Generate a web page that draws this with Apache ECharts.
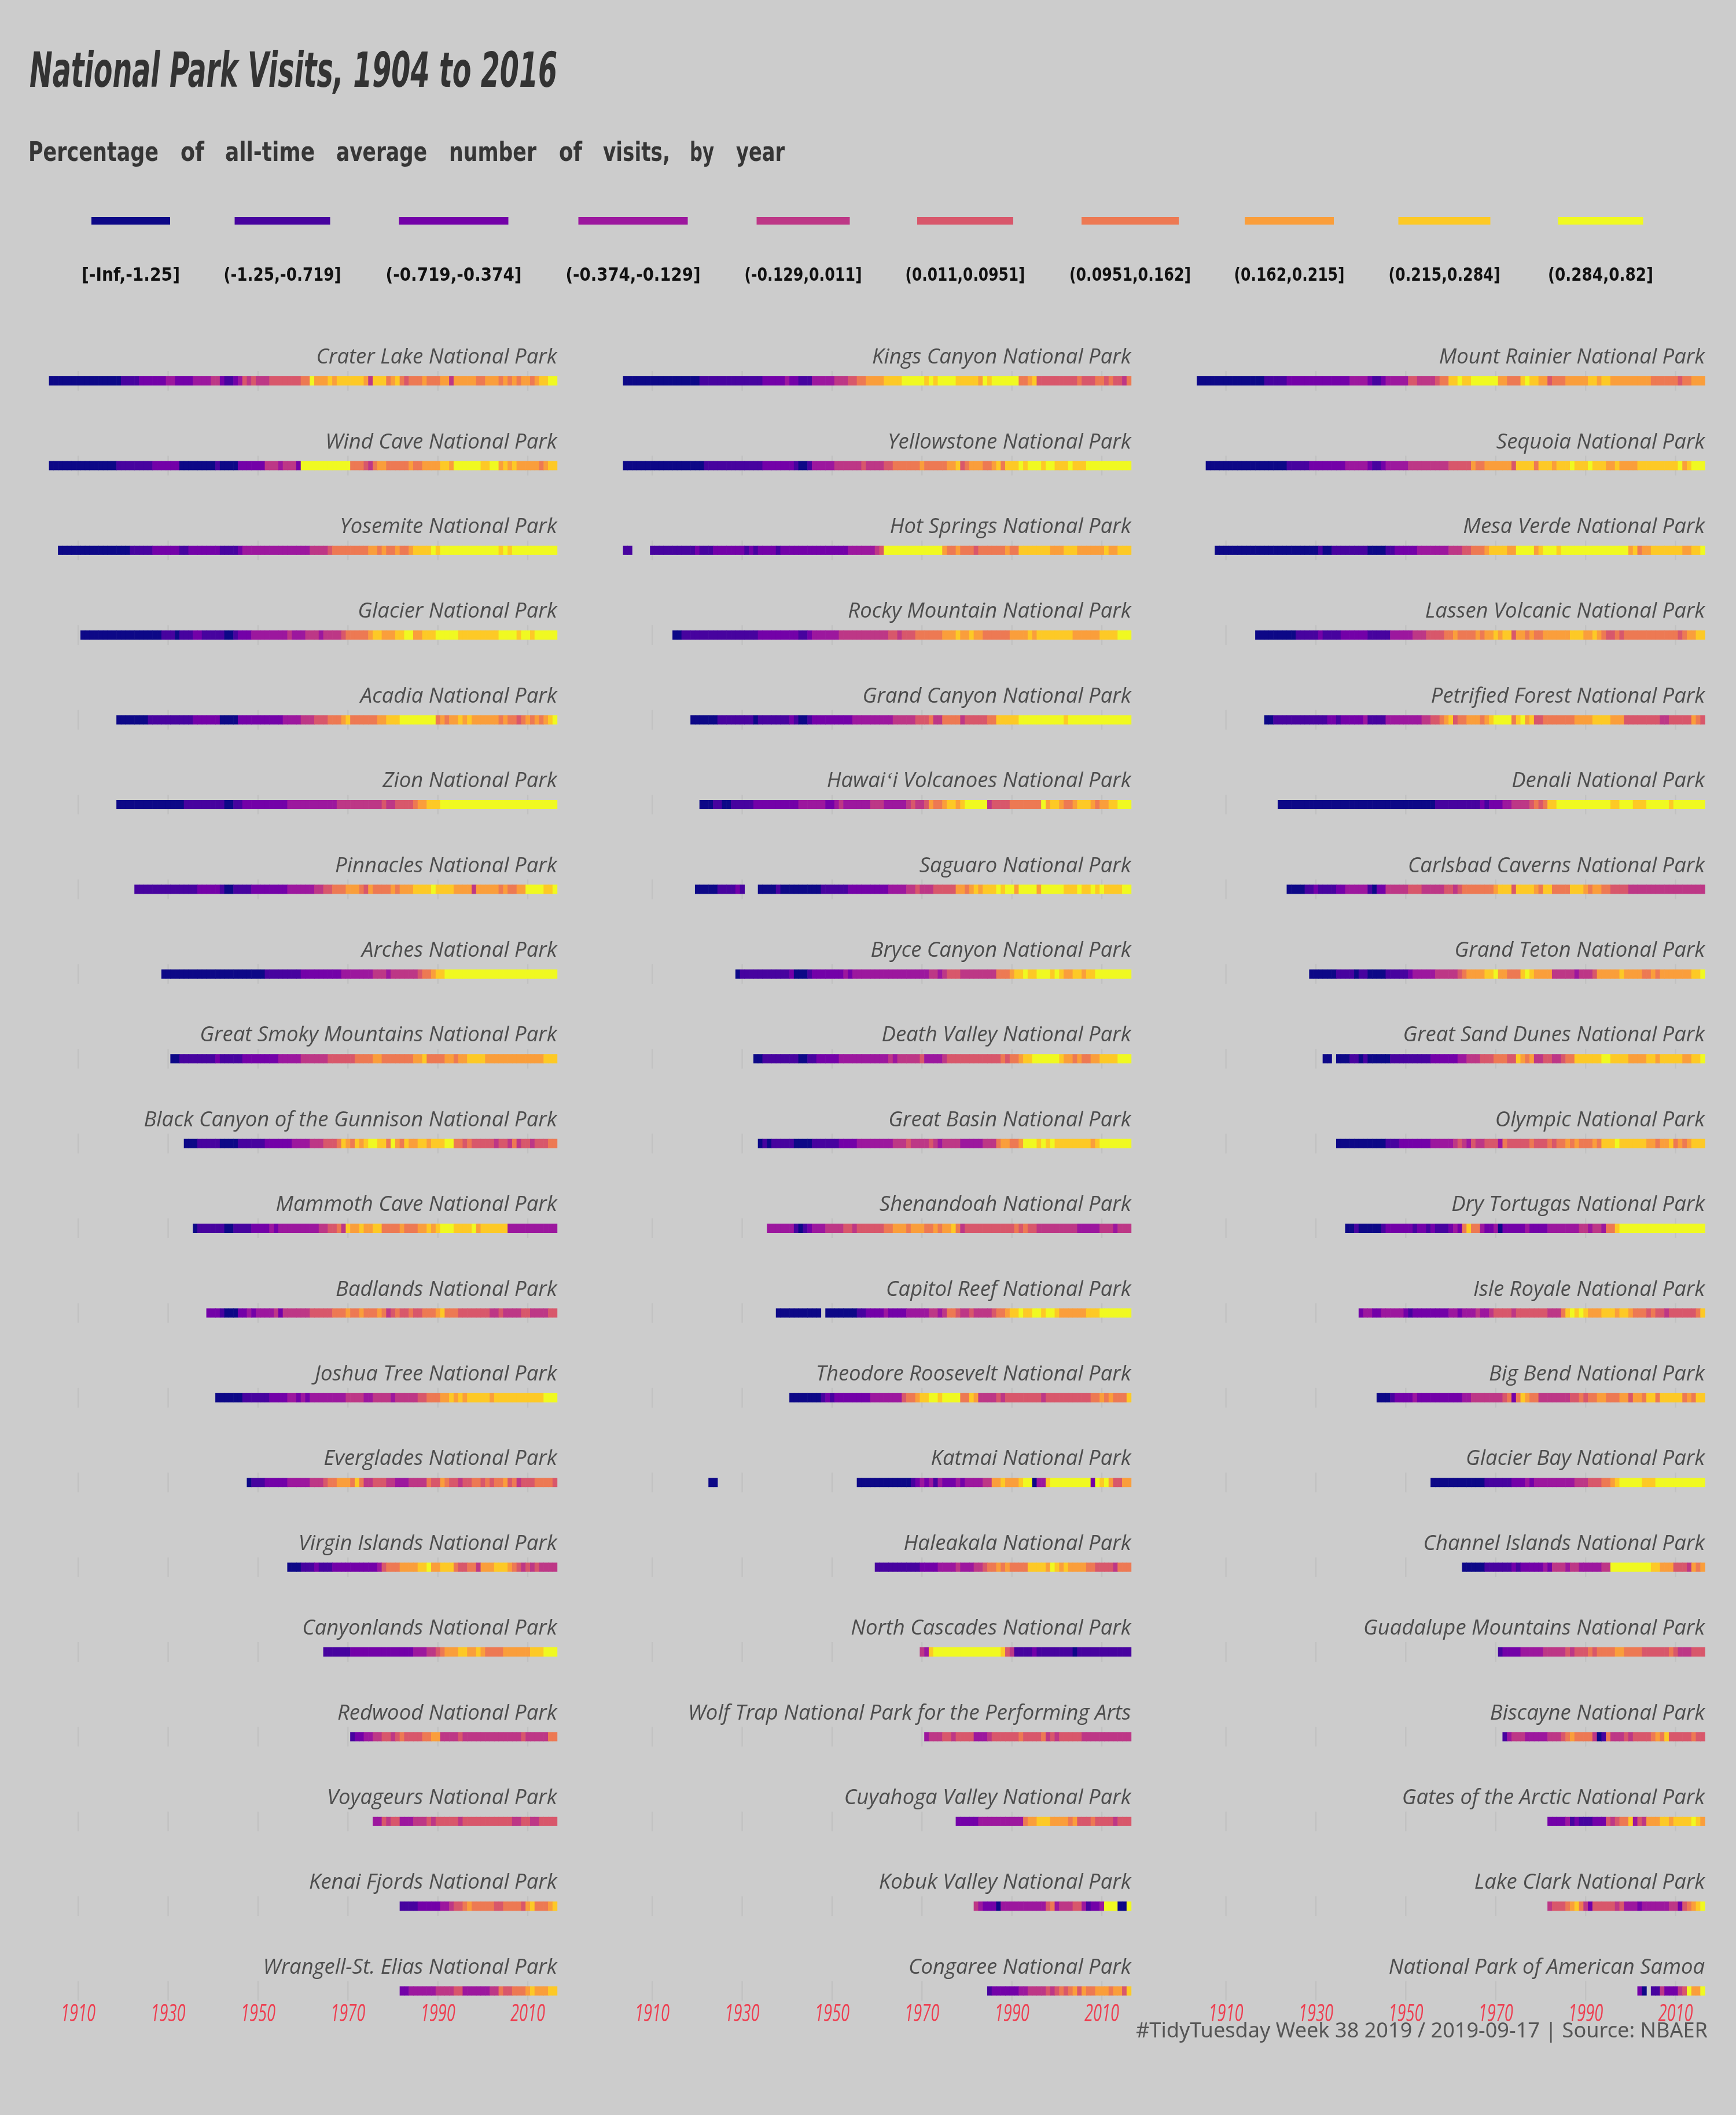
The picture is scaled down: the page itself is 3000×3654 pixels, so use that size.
<!DOCTYPE html>
<html><head><meta charset="utf-8">
<script src="https://cdn.jsdelivr.net/npm/echarts@6/dist/echarts.min.js"></script>
<style>html,body{margin:0;padding:0;background:#cccccc}#c{width:3000px;height:3654px}</style>
</head><body><div id="c"></div>
<script>
// ---------------- DATA ----------------
const parkNames = [
  "Crater Lake National Park","Wind Cave National Park","Yosemite National Park","Glacier National Park","Acadia National Park",
  "Zion National Park","Pinnacles National Park","Arches National Park","Great Smoky Mountains National Park","Black Canyon of the Gunnison National Park",
  "Mammoth Cave National Park","Badlands National Park","Joshua Tree National Park","Everglades National Park","Virgin Islands National Park",
  "Canyonlands National Park","Redwood National Park","Voyageurs National Park","Kenai Fjords National Park","Wrangell-St. Elias National Park",
  "Kings Canyon National Park","Yellowstone National Park","Hot Springs National Park","Rocky Mountain National Park","Grand Canyon National Park",
  "Hawaiʻi Volcanoes National Park","Saguaro National Park","Bryce Canyon National Park","Death Valley National Park","Great Basin National Park",
  "Shenandoah National Park","Capitol Reef National Park","Theodore Roosevelt National Park","Katmai National Park","Haleakala National Park",
  "North Cascades National Park","Wolf Trap National Park for the Performing Arts","Cuyahoga Valley National Park","Kobuk Valley National Park","Congaree National Park",
  "Mount Rainier National Park","Sequoia National Park","Mesa Verde National Park","Lassen Volcanic National Park","Petrified Forest National Park",
  "Denali National Park","Carlsbad Caverns National Park","Grand Teton National Park","Great Sand Dunes National Park","Olympic National Park",
  "Dry Tortugas National Park","Isle Royale National Park","Big Bend National Park","Glacier Bay National Park","Channel Islands National Park",
  "Guadalupe Mountains National Park","Biscayne National Park","Gates of the Arctic National Park","Lake Clark National Park","National Park of American Samoa"
];

const startYears = [
  1904,1904,1906,1911,1919,1919,1923,1929,1931,1934,1936,1939,1941,1948,1957,1965,1971,1976,1982,1982,
  1904,1904,1904,1915,1919,1921,1920,1929,1933,1934,1936,1938,1941,1923,1960,1970,1971,1978,1982,1985,
  1904,1906,1908,1917,1919,1922,1924,1929,1932,1935,1937,1940,1944,1956,1963,1971,1972,1982,1982,2002
];

// one digit per year = colour bin (0..9), "." = no data; groups split by decade
const binCodes = [
  "000000 0000000000 1111222222 3322223333 4421123545 4445555555 6697778788 8888748886 7865666766 6774777776 6777676767 7678899",
  "000000 0000000001 1111111222 2220000000 0100002222 2244434442 9999999999 9666546776 6666766777 7887999999 8899787877 7776788",
  "0000 0000000000 0011111222 2221122222 2211112333 3333333333 3344445666 6666677676 6766788889 8999999999 9999898999 9999999",
  "000000000 0000000001 1101112211 1110012223 3333333433 3444344445 6666678877 7889977888 9999988888 8888999989 9899999",
  "0 0000001111 1111112222 2200002222 2222223333 4445556667 8666666778 8899999999 6767787877 7777676656 7676789",
  "0 0000000000 0000111111 1110011222 2222222333 3333333344 4444444454 4555567788 8999999999 9999999999 9999999",
  "1111111 1111111222 2210011112 2222222333 3334455666 7776576666 7677788889 8888777747 7777676677 9999889",
  "0 0000000000 0000000000 0011111111 2222222223 3333334443 4444445667 8899999999 9999999999 9999999",
  "001111111 1211111222 2222233333 4444445555 5566667766 6666677866 6677677888 8777777777 7777888",
  "000111 1100001111 1122222233 3344455568 7687899886 9768778878 8899665655 5554554645 5455566",
  "0111 1110011112 2223233333 3333445564 8778778866 6676667787 8999888897 8888883333 3333333",
  "2 2210002232 3333424444 4455555666 7667666764 5655655666 7866655555 5544544445 5444455",
  "000000111 1112222332 3233333333 4444334444 3444445566 6778787888 8878888888 8888999",
  "01 1122222333 3344456677 7686445554 4333444465 5765545566 5656675645 5566665",
  "000 1112111222 2222222356 6677778897 7888655664 7778887654 5454444",
  "11111 1222222222 2222233344 5677788778 7666677777 7888999",
  "122334455 4565555667 7444454444 4444444445 4444466",
  "3354 5533344454 5555545555 5555555445 5445555",
  "11112222 2334556766 6665566665 7866678",
  "22333333 4444553333 3344655666 7877788",

  "000000 0000000000 0111111111 1111122222 3221113333 3444556677 7788889999 9898999988 8887989999 9966785555 5555565556 6565546",
  "000000 0000000000 0011111111 1111122222 2210013333 3444444544 4455666666 7666667785 6777667868 8898999899 8889888999 9999999",
  "11.... 1111111111 2111222222 2121222212 2222222222 2222333333 4599999999 9999976676 6656666667 6688888887 7788877777 7877888",
  "00111 1111111111 1111222222 2221123333 3344444444 4445545556 6666677787 7877666666 7777878888 8888777777 8888999",
  "0 0000011111 1110111111 1210012222 2222233333 3333444445 5564466664 5555566888 8899999999 9989999999 9999999",
  "000110011 1112222222 2223333332 2343333334 4433333454 4576678878 9999945555 6666666978 8766788876 7788999",
  "0000011112 1...000010 0000000011 1111222222 2223333445 4445555577 6787888989 9799997999 9988898898 9888899",
  "0 1111111111 1200012222 2223233333 3333333333 3344345554 4444444666 7889889998 9877887889 9999999",
  "0011111 1110011222 2233333333 3334344444 5333345555 5555555565 6678899999 9877676677 8888999",
  "010111 1100001111 1122223333 3333444544 4454344443 3333444677 6679998989 8888888878 9999999",
  "3333 3310123334 4445545555 5566777677 7667677864 5555555555 5656554444 4444433333 4443444",
  "00 00000000.0 0000001122 2232222333 3344346654 4544445667 8898899899 8777777888 9999999",
  "000000012 1222222223 3333335667 8899899996 6874444545 5555555455 5555555566 7676668",
  "00..... .......... .......... ......0000 0000000012 3231322232 3333447787 7789903389 9999999929 8975577",
  "1111111111 2222333343 3344566767 6666888879 8787777665 5554666",
  "4389999999 9999999985 4111121111 1111011111 1111111",
  "344455455 5533345555 5565555645 4555554444 4444444",
  "22 2223333333 3336778887 7776755565 5554555",
  "43222033 3333333356 3444553122 3999009",
  "12222 2233444454 5656757667 7767758",

  "000000 0000000001 1111222222 2222222233 3321123333 3554444566 8898899999 9776668988 7756667777 7887887777 7777766666 6566777",
  "0000 0000000000 0000111112 2222222333 3321123333 3444444444 5555576677 7777588886 8887888988 8988877877 7788888888 8978999",
  "00 0000000000 0000000000 0100111111 1100001122 2223333333 4445566678 8887799997 8999899999 9999999999 7867788888 8877889",
  "000 0000001111 1211112222 2211111333 3344455556 6766667677 8788577676 6777777888 7787655656 6666666666 6567788",
  "0 0111111111 1112212222 2311113333 3333445567 8566777678 9999689785 5666666677 7788887775 5555555445 5555765",
  "00000000 0000000000 0000000000 0000000111 1111111212 2233444456 5688999999 9999998899 9888999998 9999999",
  "000011 2111122333 3310224444 4555444445 5456666666 7888588887 6886666888 7677665555 4444444444 4444444",
  "0 0000011110 1100001111 1233333444 4456777788 9776668987 7774444434 4457777787 7776676777 7777889",
  "00.00011 0100000111 1111112222 2233444555 6665587674 4554456688 8888998888 7777887888 8877889",
  "00000 0000001112 2222223333 3454354455 5365555565 5565667676 6676888988 8888776778 6767888",
  "001 0000012222 2212212111 2326866322 3022222322 2233333334 4344366899 9999999999 9999999",
  "2332233333 2122222222 3323334334 5555455555 5544468989 8777888788 7666565545 5555568",
  "000122 2232222222 2223344444 4456268766 4444444556 5667766677 5776886888 8867688",
  "0000 0000000011 1111222323 3333333344 4555667899 9998889999 9999999",
  "0000011 1111212222 2324443443 3333449999 9999988777 5554767",
  "122223333 3444445455 5656666776 6665555556 5444555",
  "13444333 3344456766 6640164445 4555567685 5555655",
  "22223121 1122254566 8354777887 8888987",
  "45556786 4255555453 3323333334 4256789",
  "20.114222459779"
];

const binLabels = ["[-Inf,-1.25]","(-1.25,-0.719]","(-0.719,-0.374]","(-0.374,-0.129]","(-0.129,0.011]",
                   "(0.011,0.0951]","(0.0951,0.162]","(0.162,0.215]","(0.215,0.284]","(0.284,0.82]"];
const binColors = ["#0D0887","#47039F","#7301A8","#9C179E","#BD3786","#D8576B","#ED7953","#FA9E3B","#FDC926","#F0F921"];
const tickYears = [1910,1930,1950,1970,1990,2010];
const titleText = "National Park Visits, 1904 to 2016";
const subtitleWords = ["Percentage","of","all-time","average","number","of","visits,","by","year"];
const captionText = "#TidyTuesday Week 38 2019 / 2019-09-17 | Source: NBAER";

// ---------------- LAYOUT ----------------
const colLeft = [84.6, 1076.6, 2068.1];
const plotW = 878, gridTop = 584.8, rowH = 146.4, nRows = 20;
const xMin = 1903.5, xMax = 2016.5;

const mctx = document.createElement('canvas').getContext('2d');
function measure(text, font){ mctx.font = font; return mctx.measureText(text).width; }

// decode codes into tiles
const tiles = [[],[],[]];
parkNames.forEach((name, p) => {
  const col = Math.floor(p / nRows), row = p % nRows;
  const groups = binCodes[p].trim().split(/\s+/);
  groups.forEach((g, k) => {
    const base = k === 0 ? startYears[p] : (Math.floor(startYears[p] / 10) + k) * 10;
    for (let j = 0; j < g.length; j++) {
      const ch = g[j];
      if (ch === '.') continue;
      tiles[col].push([base + j, row, +ch]);
    }
  });
});

const titleFont = 'italic 36px "Open Sans"';
const titleScale = 416 / measure("Crater Lake National Park", titleFont);
const tickFont = 'italic 42px "Open Sans"';
const tickScale = 60 / measure("1910", tickFont);

const grids = [], xAxes = [], yAxes = [], series = [];
for (let c = 0; c < 3; c++) {
  grids.push({left: colLeft[c], top: gridTop, width: plotW, height: rowH * nRows});
  xAxes.push({type: 'value', gridIndex: c, min: xMin, max: xMax, show: false});
  yAxes.push({type: 'value', gridIndex: c, min: 0, max: nRows, inverse: true, show: false});

  const gl = [];
  for (let r = 0; r < nRows; r++) tickYears.forEach(y => gl.push([y, r]));
  series.push({
    type: 'custom', xAxisIndex: c, yAxisIndex: c, data: gl, silent: true, z: 1,
    renderItem: (params, api) => {
      const p = api.coord([api.value(0), api.value(1) + 0.5]);
      return {type: 'line', shape: {x1: p[0], y1: p[1] - 17, x2: p[0], y2: p[1] + 17},
              style: {stroke: '#C1C1C1', lineWidth: 2.3}};
    }
  });
  series.push({
    type: 'custom', xAxisIndex: c, yAxisIndex: c, data: tiles[c], silent: true, z: 2,
    renderItem: (params, api) => {
      const yr = api.value(0), r = api.value(1), b = api.value(2);
      const a = api.coord([yr - 0.5, r + 0.5]);
      const e = api.coord([yr + 0.5, r + 0.5]);
      return {type: 'rect', shape: {x: a[0], y: a[1] - 8, width: e[0] - a[0] + 0.6, height: 16},
              style: {fill: binColors[b]}};
    }
  });
  const tl = [];
  for (let r = 0; r < nRows; r++) tl.push([xMax, r, c * nRows + r]);
  series.push({
    type: 'custom', xAxisIndex: c, yAxisIndex: c, data: tl, silent: true, z: 3,
    renderItem: (params, api) => {
      const p = api.coord([api.value(0), api.value(1) + 0.5]);
      return {type: 'text', x: p[0], y: p[1] - 40, scaleX: titleScale,
              style: {text: parkNames[api.value(2)], font: titleFont, fill: '#4D4D4D',
                      align: 'right', verticalAlign: 'middle', textAlign: 'right', textVerticalAlign: 'middle'}};
    }
  });
  series.push({
    type: 'custom', xAxisIndex: c, yAxisIndex: c, data: tickYears.map(y => [y, nRows - 1]), silent: true, z: 3,
    renderItem: (params, api) => {
      const p = api.coord([api.value(0), api.value(1) + 0.5]);
      return {type: 'text', x: p[0], y: p[1] + 40, scaleX: tickScale,
              style: {text: String(api.value(0)), font: tickFont, fill: '#EE3E50',
                      align: 'center', verticalAlign: 'middle', textAlign: 'center', textVerticalAlign: 'middle'}};
    }
  });
}

// header graphics
const graphics = [];
const hFont = 'italic bold 84px "DejaVu Sans Condensed"';
graphics.push({type: 'text', x: 51, y: 128, scaleX: 912 / measure(titleText, hFont),
  style: {text: titleText, font: hFont, fill: '#333333', verticalAlign: 'middle', textVerticalAlign: 'middle'}});

const subX = [49, 312, 389, 581, 776, 966, 1042, 1192, 1272];
const subW = [225, 41, 155, 157, 151, 40, 116, 42, 84];
const sFont = 'bold 46px "DejaVu Sans Condensed"';
subtitleWords.forEach((w, i) => {
  graphics.push({type: 'text', x: subX[i], y: 266, scaleX: subW[i] / measure(w, sFont),
    style: {text: w, font: sFont, fill: '#363636', verticalAlign: 'middle', textVerticalAlign: 'middle'}});
});

const legCx = [226, 488, 784, 1094, 1388, 1668, 1953, 2228, 2496, 2766];
const legLabW = [170, 203, 235, 233, 203, 207, 210, 191, 193, 182];
const legBarW = [136, 165, 189, 189, 161, 166, 168, 154, 159, 147];
const lFont = 'bold 32px "DejaVu Sans Condensed"';
binLabels.forEach((lab, i) => {
  graphics.push({type: 'rect', shape: {x: legCx[i] - legBarW[i] / 2, y: 375, width: legBarW[i], height: 13},
    style: {fill: binColors[i]}});
  graphics.push({type: 'text', x: legCx[i], y: 477, scaleX: legLabW[i] / measure(lab, lFont),
    style: {text: lab, font: lFont, fill: '#111111', align: 'center', verticalAlign: 'middle',
            textAlign: 'center', textVerticalAlign: 'middle'}});
});

const cFont = '36px "Noto Sans"';
graphics.push({type: 'text', x: 2951, y: 3510, scaleX: 988 / measure(captionText, cFont),
  style: {text: captionText, font: cFont, fill: '#555555', align: 'right', verticalAlign: 'middle',
          textAlign: 'right', textVerticalAlign: 'middle'}});

const chart = echarts.init(document.getElementById('c'), null, {renderer: 'canvas'});
chart.setOption({
  backgroundColor: '#CCCCCC',
  animation: false,
  grid: grids, xAxis: xAxes, yAxis: yAxes,
  series: series,
  graphic: graphics
});
</script></body></html>
